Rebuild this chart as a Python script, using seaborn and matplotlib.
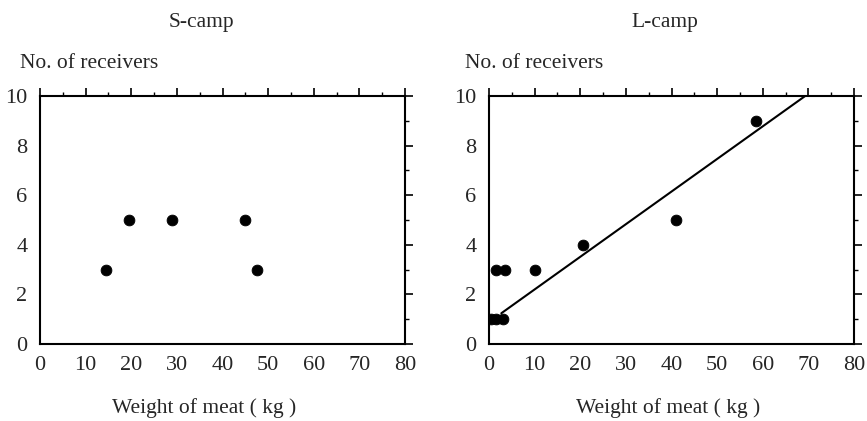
import matplotlib
matplotlib.use("Agg")
import matplotlib.pyplot as plt
import seaborn as sns
import pandas as pd

# S-camp points
s_weight = [14.5, 19.5, 29, 45, 47.5]
s_receivers = [3, 5, 5, 5, 3]

# L-camp points
l_weight = [0.5, 1.5, 3, 1.5, 3.5, 10, 20.5, 41, 58.5]
l_receivers = [1, 1, 1, 3, 3, 3, 4, 5, 9]

# fitted line for L-camp (end points)
fit_weight = [2.7, 69.3]
fit_receivers = [1.24, 10]

sns.set_style("white")
plt.rcParams['font.family'] = ['Liberation Serif', 'DejaVu Serif']

fig = plt.figure(figsize=(8.67, 4.21), dpi=100)
ax1 = fig.add_axes([40/867, 1-344/421, 365/867, 248/421])
ax2 = fig.add_axes([489/867, 1-344/421, 365/867, 248/421])

s_df = pd.DataFrame({'w': s_weight, 'n': s_receivers})
l_df = pd.DataFrame({'w': l_weight, 'n': l_receivers})
fit_df = pd.DataFrame({'w': fit_weight, 'n': fit_receivers})

sns.scatterplot(data=s_df, x='w', y='n', ax=ax1, color='black', s=60,
                edgecolor='black', zorder=3)
sns.scatterplot(data=l_df, x='w', y='n', ax=ax2, color='black', s=60,
                edgecolor='black', zorder=3)
sns.lineplot(data=fit_df, x='w', y='n', ax=ax2, color='black', lw=1.5)

for ax, title, tx, ylx in [(ax1, 'S-camp', 201, 20), (ax2, 'L-camp', 665, 465)]:
    ax.set_xlim(0, 80)
    ax.set_ylim(0, 10)
    ax.set_xticks(range(0, 81, 10))
    ax.set_xticks(range(5, 80, 10), minor=True)
    ax.set_yticks(range(0, 11, 2))
    ax.set_yticks(range(1, 10, 2), minor=True)
    ax.tick_params(which='both', direction='out', top=True, right=True,
                   labeltop=False, labelright=False, color='black',
                   labelsize=16, pad=3)
    ax.tick_params(which='major', length=6, width=1.2)
    ax.tick_params(which='minor', length=3, width=1.0)
    for sp in ax.spines.values():
        sp.set_visible(True)
        sp.set_color('black')
        sp.set_linewidth(1.5)
    ax.set_xlabel('')
    ax.set_ylabel('')
    fig.text(tx/867, 1-22/421, title, ha='center', va='center', fontsize=15.5)
    fig.text(ylx/867, 1-63/421, 'No. of receivers', ha='left', va='center',
             fontsize=15.5)
    fig.text(tx/867 + 3/867, 1-408/421, 'Weight of meat ( kg )', ha='center',
             va='center', fontsize=15.5)

fig.savefig('out.png', dpi=100)
